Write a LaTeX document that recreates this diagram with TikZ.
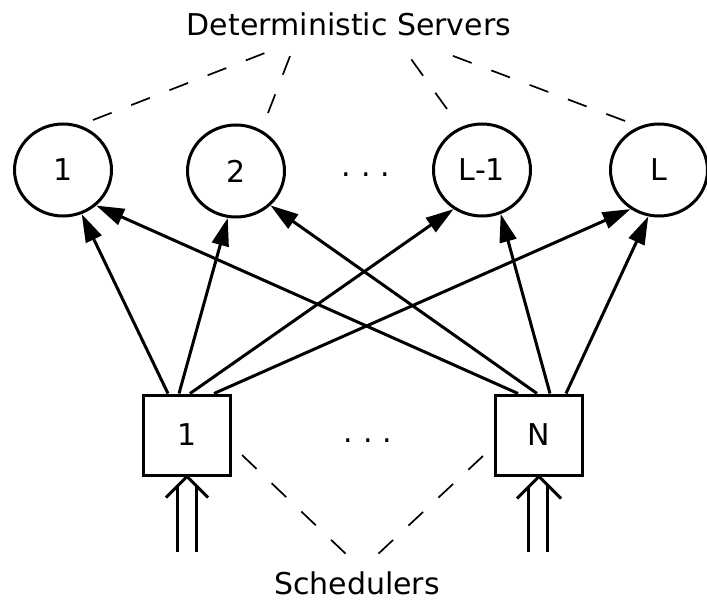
\documentclass[tikz,border=0pt]{standalone}
\usepackage{fontspec}
\setmainfont{DejaVu Sans}
\usetikzlibrary{arrows.meta,shapes.geometric}
\begin{document}
\begin{tikzpicture}[x=1pt,y=-1pt,
  srv/.style={ellipse,draw,line width=3pt,minimum width=97pt,minimum height=92pt,inner sep=0pt},
  sched/.style={rectangle,draw,line width=3pt,minimum width=87pt,minimum height=80pt,inner sep=0pt},
  lbl/.style={font=\fontsize{30}{36}\selectfont},
  conn/.style={line width=3pt,-{Triangle[length=28pt,width=17pt]}},
  grp/.style={line width=1.7pt,dash pattern=on 20pt off 21pt},
  feed/.style={line width=3pt,miter limit=20}]
\useasboundingbox (0,0) rectangle (707,604);
% title and group label
\node[lbl] (title) at (349,24) {Deterministic Servers};
\node[lbl] (schedlbl) at (357,583) {Schedulers};
% servers
\node[srv,lbl] (c1) at (63,170) {1};
\node[srv,lbl] (c2) at (236,171) {2};
\node[srv,lbl] (c3) at (482,170) {L-1};
\node[srv,lbl] (c4) at (659,170) {L};
\node[lbl,anchor=base] (dtop) at (366,177) {.\hspace{10pt}.\hspace{10pt}.};
% schedulers
\node[sched,lbl] (b1) at (187,435) {1};
\node[sched,lbl] (b2) at (539,435) {N};
\node[lbl,anchor=base] (dbot) at (368,442) {.\hspace{10pt}.\hspace{10pt}.};
% connectors from scheduler 1
\draw[conn] ([xshift=-19pt]b1.north) -- (c1.-67);
\draw[conn] ([xshift=-8pt]b1.north) -- (c2.-100);
\draw[conn] ([xshift=3pt]b1.north) -- (c3.-126);
\draw[conn] ([xshift=27pt]b1.north) -- (c4.-126);
% connectors from scheduler N
\draw[conn] ([xshift=-21pt]b2.north) -- (c1.-47);
\draw[conn] ([xshift=-2pt]b2.north) -- (c2.-45);
\draw[conn] ([xshift=11pt]b2.north) -- (c3.-67);
\draw[conn] ([xshift=27pt]b2.north) -- (c4.-103);
% dashed group lines (servers)
\coordinate (g1a) at (93,120);  \coordinate (g1b) at (270,51);
\coordinate (g2a) at (268,113); \coordinate (g2b) at (292,51);
\coordinate (g3a) at (447,109); \coordinate (g3b) at (406,52);
\coordinate (g4a) at (625,121); \coordinate (g4b) at (440,51);
\draw[grp] (g1a) -- (g1b);
\draw[grp] (g2a) -- (g2b);
\draw[grp] (g3a) -- (g3b);
\draw[grp] (g4a) -- (g4b);
% dashed group lines (schedulers)
\coordinate (s1a) at (242,455); \coordinate (s1b) at (347,555);
\coordinate (s2a) at (483,456); \coordinate (s2b) at (377,555);
\draw[grp] (s1a) -- (s1b);
\draw[grp] (s2a) -- (s2b);
% double input arrows
\coordinate (i1) at (187,552);
\coordinate (i2) at (538,552);
\draw[feed] ([xshift=-9.5pt]i1) -- ([xshift=-9.5pt,yshift=66pt]i1);
\draw[feed] ([xshift=9.5pt]i1) -- ([xshift=9.5pt,yshift=66pt]i1);
\draw[feed] ([shift={(-21pt,-21pt)}]b1.south) -- (b1.south) -- ([shift={(21pt,-21pt)}]b1.south);
\draw[feed] ([xshift=-9.5pt]i2) -- ([xshift=-9.5pt,yshift=66pt]i2);
\draw[feed] ([xshift=9.5pt]i2) -- ([xshift=9.5pt,yshift=66pt]i2);
\draw[feed] ([shift={(-22pt,-22pt)}]b2.south) -- (b2.south) -- ([shift={(22pt,-22pt)}]b2.south);
\end{tikzpicture}
\end{document}
